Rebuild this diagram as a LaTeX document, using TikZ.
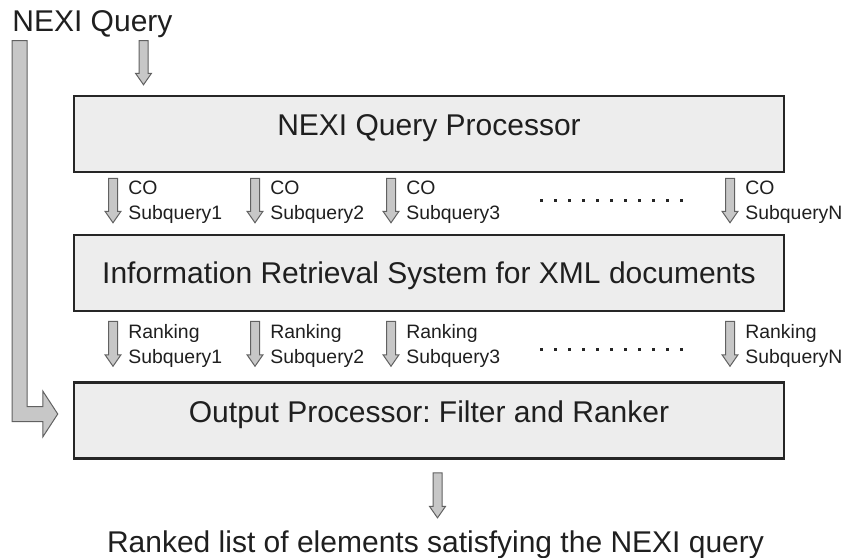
\documentclass[tikz,border=0pt]{standalone}
\usepackage{fontspec}
\setmainfont{Liberation Sans}
\usetikzlibrary{calc}
\frenchspacing

\begin{document}
\begin{tikzpicture}[
    x=0.5pt, y=-0.5pt,
    every node/.style={text=black!88, inner sep=0pt},
    big/.style={font=\fontsize{15}{18}\selectfont},
    lbl/.style={font=\fontsize{9.7}{12.5}\selectfont, align=left, anchor=base west},
    stage/.style={
      rectangle, draw=black!85, line width=1.25pt,
      fill=black!7, minimum width=355pt, minimum height=38pt
    },
    barrow/.style={
      draw=black!62, line width=0.5pt, fill=black!22,
      to path={let \p1=(\tikztostart), \p2=(\tikztotarget) in
        (\x1-2.25pt,\y1) -- (\x1-2.25pt,\y2+5.75pt) -- (\x1-4pt,\y2+5.75pt)
        -- (\x2,\y2) -- (\x1+4pt,\y2+5.75pt) -- (\x1+2.25pt,\y2+5.75pt)
        -- (\x1+2.25pt,\y1) -- cycle}
    },
    lbarrow/.style={
      draw=black!62, line width=0.5pt, fill=black!22,
      to path={let \p1=(\tikztostart), \p2=(\tikztotarget) in
        (\x1-3.75pt,\y1) -- (\x1-3.75pt,\y2-3.75pt) -- (\x2-7.5pt,\y2-3.75pt)
        -- (\x2-7.5pt,\y2-11.5pt) -- (\x2,\y2) -- (\x2-7.5pt,\y2+11.5pt)
        -- (\x2-7.5pt,\y2+3.75pt) -- (\x1+3.75pt,\y2+3.75pt)
        -- (\x1+3.75pt,\y1) -- cycle}
    },
    dots/.style={draw=black!85, line width=1.5pt, dash pattern=on 1.5pt off 5.5pt}
  ]

    \useasboundingbox (0,0) rectangle (844,557);

    % Input
    \node[big, anchor=base west] (query) at (12,32) {NEXI Query};

    % Stages
    \node[stage] (qp) at (429,134) {};
    \node[big, anchor=base] (qptext) at (429,135) {NEXI Query Processor};
    \node[stage] (ir) at (429,273) {};
    \node[big, anchor=base] (irtext) at (429,283) {Information Retrieval System for XML documents};
    \node[stage] (op) at (429,420.5) {};
    \node[big, anchor=base] (optext) at (429,422) {Output Processor: Filter and Ranker};

    % Output
    \node[big, anchor=base] (result) at (435.5,552) {Ranked list of elements satisfying the NEXI query};

    % column positions
    \coordinate (kq) at (143.5,0);
    \coordinate (k1) at (113,0);
    \coordinate (k2) at (255,0);
    \coordinate (k3) at (391,0);
    \coordinate (kN) at (730,0);
    \coordinate (kr) at (437.5,0);

    \draw[barrow] ($(query.south -| kq)+(0,2)$) to ($(qp.north -| kq)+(0,-10)$);
    \draw[lbarrow] ($(query.south west)+(7.5,2)$) to ($(op.west)+(-15,-6.5)$);

    % CO subqueries
    \draw[barrow] ($(qp.south -| k1)+(0,5)$) to ($(ir.north -| k1)+(0,-11)$);
    \draw[barrow] ($(qp.south -| k2)+(0,5)$) to ($(ir.north -| k2)+(0,-11)$);
    \draw[barrow] ($(qp.south -| k3)+(0,5)$) to ($(ir.north -| k3)+(0,-11)$);
    \draw[barrow] ($(qp.south -| kN)+(0,5)$) to ($(ir.north -| kN)+(0,-11)$);
    \node[lbl] (co1) at ($(k1)+(15,219)$) {CO\\Subquery1};
    \node[lbl] (co2) at ($(k2)+(15,219)$) {CO\\Subquery2};
    \node[lbl] (co3) at ($(k3)+(15,219)$) {CO\\Subquery3};
    \node[lbl] (coN) at ($(kN)+(15,219)$) {CO\\SubqueryN};
    \coordinate (cdots1) at (540,200);
    \coordinate (cdots2) at (684,200);
    \draw[dots] (cdots1) -- (cdots2);

    % Ranking subqueries
    \draw[barrow] ($(ir.south -| k1)+(0,9)$) to ($(op.north -| k1)+(0,-15)$);
    \draw[barrow] ($(ir.south -| k2)+(0,9)$) to ($(op.north -| k2)+(0,-15)$);
    \draw[barrow] ($(ir.south -| k3)+(0,9)$) to ($(op.north -| k3)+(0,-15)$);
    \draw[barrow] ($(ir.south -| kN)+(0,9)$) to ($(op.north -| kN)+(0,-15)$);
    \node[lbl] (rk1) at ($(k1)+(15,363)$) {Ranking\\Subquery1};
    \node[lbl] (rk2) at ($(k2)+(15,363)$) {Ranking\\Subquery2};
    \node[lbl] (rk3) at ($(k3)+(15,363)$) {Ranking\\Subquery3};
    \node[lbl] (rkN) at ($(kN)+(15,363)$) {Ranking\\SubqueryN};
    \coordinate (rdots1) at (540,349);
    \coordinate (rdots2) at (684,349);
    \draw[dots] (rdots1) -- (rdots2);

    \draw[barrow] ($(op.south -| kr)+(0,13)$) to ($(result.north -| kr)+(0,-12)$);

  \end{tikzpicture}
\end{document}
